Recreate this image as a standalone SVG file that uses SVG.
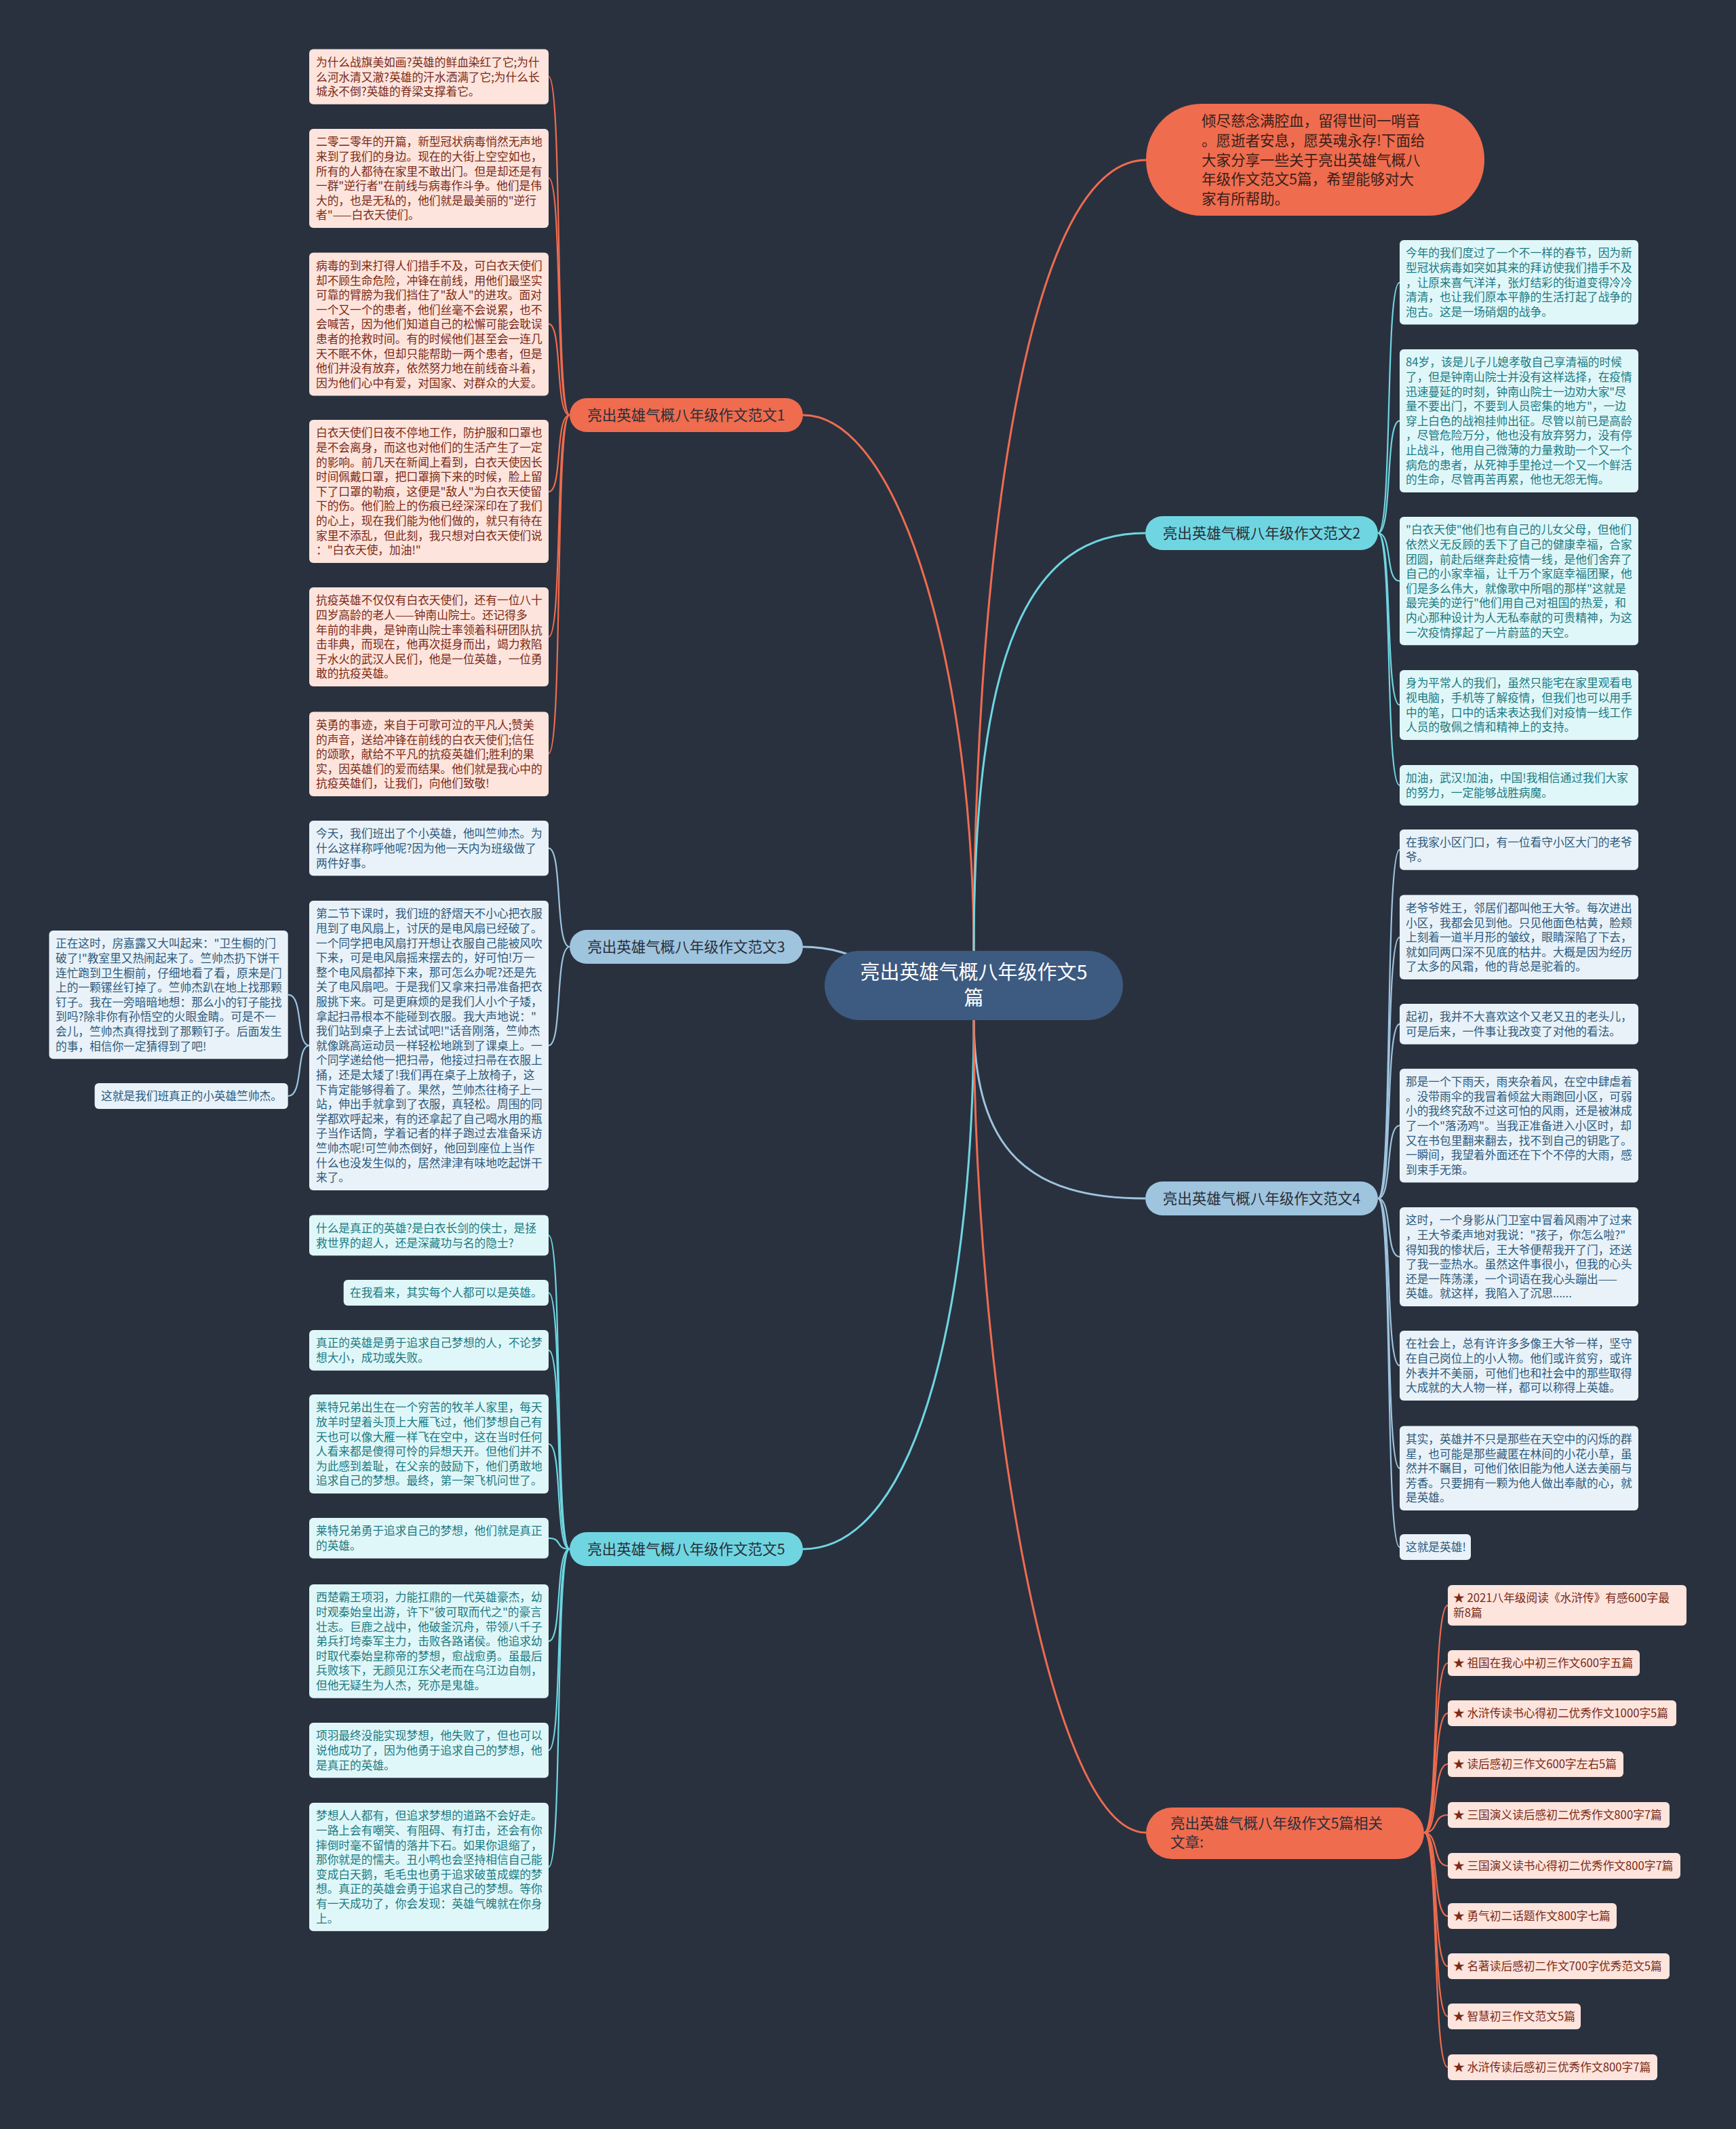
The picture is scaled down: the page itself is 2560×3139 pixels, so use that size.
<svg xmlns="http://www.w3.org/2000/svg" width="2560" height="3139" viewBox="0 0 2560 3139">
<style>
text{font-family:"Noto Sans CJK SC","Noto Sans",sans-serif;}
.t{font-size:16.7px;}
.ob{fill:#fde4dc;}
.ot{fill:#7a2a18;}
.cb{fill:#e0f7f9;}
.ct{fill:#1b7a82;}
.bb{fill:#e9f2f9;}
.bt{fill:#2d5a7c;}
.lo{fill:none;stroke:#ef6c4f;stroke-width:2.2;}
.lc{fill:none;stroke:#6fd6e1;stroke-width:2.2;}
.lb{fill:none;stroke:#9fc4de;stroke-width:2.2;}
.m{stroke-width:3;}
.bn{font-size:21.5px;fill:#2a2f3a;}
</style>
<rect width="2560" height="3139" fill="#29313f"/>
<g id="connectors">
<path class="lo m" d="M1436 1404 C1436 900 1500 236 1690 236"/>
<path class="lo m" d="M1436 1404 C1436 1000 1330 612 1184 612"/>
<path class="lc m" d="M1436 1404 C1436 950 1520 786 1689 786"/>
<path class="lb m" d="M1436 1454 C1300 1454 1280 1396 1184 1396"/>
<path class="lb m" d="M1436 1500 C1436 1700 1520 1767 1689 1767"/>
<path class="lc m" d="M1436 1500 C1436 1900 1360 2284 1184 2284"/>
<path class="lo m" d="M1436 1500 C1436 2000 1540 2702 1690 2702"/>
<path class="lo" d="M840 612 C818 612 830 113 809 113"/>
<path class="lo" d="M840 612 C818 612 830 262.5 809 262.5"/>
<path class="lo" d="M840 612 C818 612 830 477.7 809 477.7"/>
<path class="lo" d="M840 612 C818 612 830 725 809 725"/>
<path class="lo" d="M840 612 C818 612 830 939 809 939"/>
<path class="lo" d="M840 612 C818 612 830 1111 809 1111"/>
<path class="lc" d="M2032 786 C2054 786 2042 416.5 2064 416.5"/>
<path class="lc" d="M2032 786 C2054 786 2042 620.4 2064 620.4"/>
<path class="lc" d="M2032 786 C2054 786 2042 856.6 2064 856.6"/>
<path class="lc" d="M2032 786 C2054 786 2042 1039.4 2064 1039.4"/>
<path class="lc" d="M2032 786 C2054 786 2042 1157.8 2064 1157.8"/>
<path class="lb" d="M840 1396 C818 1396 830 1250.6 809 1250.6"/>
<path class="lb" d="M840 1396 C818 1396 830 1541.5 809 1541.5"/>
<path class="lb" d="M456 1541.5 C436 1541.5 448 1466.6 425 1466.6"/>
<path class="lb" d="M456 1541.5 C436 1541.5 448 1616 425 1616"/>
<path class="lb" d="M2032 1767 C2054 1767 2042 1252.8 2064 1252.8"/>
<path class="lb" d="M2032 1767 C2054 1767 2042 1381.8 2064 1381.8"/>
<path class="lb" d="M2032 1767 C2054 1767 2042 1509.8 2064 1509.8"/>
<path class="lb" d="M2032 1767 C2054 1767 2042 1659.5 2064 1659.5"/>
<path class="lb" d="M2032 1767 C2054 1767 2042 1853 2064 1853"/>
<path class="lb" d="M2032 1767 C2054 1767 2042 2013.4 2064 2013.4"/>
<path class="lb" d="M2032 1767 C2054 1767 2042 2164.7 2064 2164.7"/>
<path class="lb" d="M2032 1767 C2054 1767 2042 2281 2064 2281"/>
<path class="lc" d="M840 2284 C818 2284 830 1821.5 809 1821.5"/>
<path class="lc" d="M840 2284 C818 2284 830 1906 809 1906"/>
<path class="lc" d="M840 2284 C818 2284 830 1990.8 809 1990.8"/>
<path class="lc" d="M840 2284 C818 2284 830 2129 809 2129"/>
<path class="lc" d="M840 2284 C818 2284 830 2267.8 809 2267.8"/>
<path class="lc" d="M840 2284 C818 2284 830 2419.8 809 2419.8"/>
<path class="lc" d="M840 2284 C818 2284 830 2580.6 809 2580.6"/>
<path class="lc" d="M840 2284 C818 2284 830 2752.6 809 2752.6"/>
<path class="lo" d="M2100 2702 C2122 2702 2112 2366.8 2135 2366.8"/>
<path class="lo" d="M2100 2702 C2122 2702 2112 2452 2135 2452"/>
<path class="lo" d="M2100 2702 C2122 2702 2112 2526 2135 2526"/>
<path class="lo" d="M2100 2702 C2122 2702 2112 2601 2135 2601"/>
<path class="lo" d="M2100 2702 C2122 2702 2112 2676 2135 2676"/>
<path class="lo" d="M2100 2702 C2122 2702 2112 2751 2135 2751"/>
<path class="lo" d="M2100 2702 C2122 2702 2112 2825 2135 2825"/>
<path class="lo" d="M2100 2702 C2122 2702 2112 2899 2135 2899"/>
<path class="lo" d="M2100 2702 C2122 2702 2112 2973 2135 2973"/>
<path class="lo" d="M2100 2702 C2122 2702 2112 3048 2135 3048"/>
</g>

<g id="center">
<rect x="1216" y="1402" width="440" height="102" rx="51" fill="#3d5a80"/>
<text x="1436" y="1444" font-size="29" fill="#ffffff" text-anchor="middle">亮出英雄气概八年级作文5</text>
<text x="1436" y="1482" font-size="29" fill="#ffffff" text-anchor="middle">篇</text>
</g>

<g id="intro">
<rect x="1690" y="153" width="499" height="165" rx="82" fill="#ef6c4f"/>
<text font-size="21.5" fill="#3a2018"><tspan x="1772" y="186">倾尽慈念满腔血，留得世间一哨音</tspan><tspan x="1772" y="215">。愿逝者安息，愿英魂永存!下面给</tspan><tspan x="1772" y="244">大家分享一些关于亮出英雄气概八</tspan><tspan x="1772" y="272">年级作文范文5篇，希望能够对大</tspan><tspan x="1772" y="301">家有所帮助。</tspan></text>
</g>

<g id="branch1">
<rect x="840" y="587" width="344" height="50" rx="25" fill="#ef6c4f"/>
<text class="bn" x="1012" y="620" text-anchor="middle">亮出英雄气概八年级作文范文1</text>
</g>
<g id="branch2">
<rect x="1689" y="761" width="343" height="50" rx="25" fill="#6fd6e1"/>
<text class="bn" x="1860.5" y="794" text-anchor="middle">亮出英雄气概八年级作文范文2</text>
</g>
<g id="branch3">
<rect x="840" y="1371" width="344" height="50" rx="25" fill="#9fc4de"/>
<text class="bn" x="1012" y="1404" text-anchor="middle">亮出英雄气概八年级作文范文3</text>
</g>
<g id="branch4">
<rect x="1689" y="1742" width="343" height="50" rx="25" fill="#9fc4de"/>
<text class="bn" x="1860.5" y="1775" text-anchor="middle">亮出英雄气概八年级作文范文4</text>
</g>
<g id="branch5">
<rect x="840" y="2259" width="344" height="50" rx="25" fill="#6fd6e1"/>
<text class="bn" x="1012" y="2292" text-anchor="middle">亮出英雄气概八年级作文范文5</text>
</g>
<g id="related">
<rect x="1690" y="2665" width="410" height="76" rx="38" fill="#ef6c4f"/>
<text class="bn"><tspan x="1726" y="2696">亮出英雄气概八年级作文5篇相关</tspan><tspan x="1726" y="2724">文章:</tspan></text>
</g>

<g id="a1"><rect class="ob" x="456" y="72.5" width="353" height="81.3" rx="6"/>
<text class="t ot"><tspan x="466" y="97.9">为什么战旗美如画?英雄的鲜血染红了它;为什</tspan><tspan x="466" y="119.5">么河水清又澈?英雄的汗水洒满了它;为什么长</tspan><tspan x="466" y="141.1">城永不倒?英雄的脊梁支撑着它。</tspan></text></g>
<g id="a2"><rect class="ob" x="456" y="190" width="353" height="146.1" rx="6"/>
<text class="t ot"><tspan x="466" y="215.4">二零二零年的开篇，新型冠状病毒悄然无声地</tspan><tspan x="466" y="237">来到了我们的身边。现在的大街上空空如也，</tspan><tspan x="466" y="258.6">所有的人都待在家里不敢出门。但是却还是有</tspan><tspan x="466" y="280.2">一群"逆行者"在前线与病毒作斗争。他们是伟</tspan><tspan x="466" y="301.8">大的，也是无私的，他们就是最美丽的"逆行</tspan><tspan x="466" y="323.4">者"——白衣天使们。</tspan></text></g>
<g id="a3"><rect class="ob" x="456" y="372.5" width="353" height="210.9" rx="6"/>
<text class="t ot"><tspan x="466" y="397.9">病毒的到来打得人们措手不及，可白衣天使们</tspan><tspan x="466" y="419.5">却不顾生命危险，冲锋在前线，用他们最坚实</tspan><tspan x="466" y="441.1">可靠的臂膀为我们挡住了"敌人"的进攻。面对</tspan><tspan x="466" y="462.7">一个又一个的患者，他们丝毫不会说累，也不</tspan><tspan x="466" y="484.3">会喊苦，因为他们知道自己的松懈可能会耽误</tspan><tspan x="466" y="505.9">患者的抢救时间。有的时候他们甚至会一连几</tspan><tspan x="466" y="527.5">天不眠不休，但却只能帮助一两个患者，但是</tspan><tspan x="466" y="549.1">他们并没有放弃，依然努力地在前线奋斗着，</tspan><tspan x="466" y="570.7">因为他们心中有爱，对国家、对群众的大爱。</tspan></text></g>
<g id="a4"><rect class="ob" x="456" y="619" width="353" height="210.9" rx="6"/>
<text class="t ot"><tspan x="466" y="644.4">白衣天使们日夜不停地工作，防护服和口罩也</tspan><tspan x="466" y="666">是不会离身，而这也对他们的生活产生了一定</tspan><tspan x="466" y="687.6">的影响。前几天在新闻上看到，白衣天使因长</tspan><tspan x="466" y="709.2">时间佩戴口罩，把口罩摘下来的时候，脸上留</tspan><tspan x="466" y="730.8">下了口罩的勒痕，这便是"敌人"为白衣天使留</tspan><tspan x="466" y="752.4">下的伤。他们脸上的伤痕已经深深印在了我们</tspan><tspan x="466" y="774">的心上，现在我们能为他们做的，就只有待在</tspan><tspan x="466" y="795.6">家里不添乱，但此刻，我只想对白衣天使们说</tspan><tspan x="466" y="817.2">："白衣天使，加油!"</tspan></text></g>
<g id="a5"><rect class="ob" x="456" y="866" width="353" height="146.1" rx="6"/>
<text class="t ot"><tspan x="466" y="891.4">抗疫英雄不仅仅有白衣天使们，还有一位八十</tspan><tspan x="466" y="913">四岁高龄的老人——钟南山院士。还记得多</tspan><tspan x="466" y="934.6">年前的非典，是钟南山院士率领着科研团队抗</tspan><tspan x="466" y="956.2">击非典，而现在，他再次挺身而出，竭力救陷</tspan><tspan x="466" y="977.8">于水火的武汉人民们，他是一位英雄，一位勇</tspan><tspan x="466" y="999.4">敢的抗疫英雄。</tspan></text></g>
<g id="a6"><rect class="ob" x="456" y="1049.5" width="353" height="124.5" rx="6"/>
<text class="t ot"><tspan x="466" y="1074.9">英勇的事迹，来自于可歌可泣的平凡人;赞美</tspan><tspan x="466" y="1096.5">的声音，送给冲锋在前线的白衣天使们;信任</tspan><tspan x="466" y="1118.1">的颂歌，献给不平凡的抗疫英雄们;胜利的果</tspan><tspan x="466" y="1139.7">实，因英雄们的爱而结果。他们就是我心中的</tspan><tspan x="466" y="1161.3">抗疫英雄们，让我们，向他们致敬!</tspan></text></g>

<g id="c1"><rect class="bb" x="456" y="1210" width="353" height="81.3" rx="6"/>
<text class="t bt"><tspan x="466" y="1235.4">今天，我们班出了个小英雄，他叫竺帅杰。为</tspan><tspan x="466" y="1257">什么这样称呼他呢?因为他一天内为班级做了</tspan><tspan x="466" y="1278.6">两件好事。</tspan></text></g>
<g id="c2"><rect class="bb" x="456" y="1328" width="353" height="426.9" rx="6"/>
<text class="t bt"><tspan x="466" y="1353.4">第二节下课时，我们班的舒熠天不小心把衣服</tspan><tspan x="466" y="1375">甩到了电风扇上，讨厌的是电风扇已经破了。</tspan><tspan x="466" y="1396.6">一个同学把电风扇打开想让衣服自己能被风吹</tspan><tspan x="466" y="1418.2">下来，可是电风扇摇来摆去的，好可怕!万一</tspan><tspan x="466" y="1439.8">整个电风扇都掉下来，那可怎么办呢?还是先</tspan><tspan x="466" y="1461.4">关了电风扇吧。于是我们又拿来扫帚准备把衣</tspan><tspan x="466" y="1483">服挑下来。可是更麻烦的是我们人小个子矮，</tspan><tspan x="466" y="1504.6">拿起扫帚根本不能碰到衣服。我大声地说："</tspan><tspan x="466" y="1526.2">我们站到桌子上去试试吧!"话音刚落，竺帅杰</tspan><tspan x="466" y="1547.8">就像跳高运动员一样轻松地跳到了课桌上。一</tspan><tspan x="466" y="1569.4">个同学递给他一把扫帚，他接过扫帚在衣服上</tspan><tspan x="466" y="1591">捅，还是太矮了!我们再在桌子上放椅子，这</tspan><tspan x="466" y="1612.6">下肯定能够得着了。果然，竺帅杰往椅子上一</tspan><tspan x="466" y="1634.2">站，伸出手就拿到了衣服，真轻松。周围的同</tspan><tspan x="466" y="1655.8">学都欢呼起来，有的还拿起了自己喝水用的瓶</tspan><tspan x="466" y="1677.4">子当作话筒，学着记者的样子跑过去准备采访</tspan><tspan x="466" y="1699">竺帅杰呢!可竺帅杰倒好，他回到座位上当作</tspan><tspan x="466" y="1720.6">什么也没发生似的，居然津津有味地吃起饼干</tspan><tspan x="466" y="1742.2">来了。</tspan></text></g>
<g id="c3"><rect class="bb" x="72.4" y="1372" width="352.3" height="189.3" rx="6"/>
<text class="t bt"><tspan x="82" y="1397.4">正在这时，房嘉露又大叫起来："卫生橱的门</tspan><tspan x="82" y="1419">破了!"教室里又热闹起来了。竺帅杰扔下饼干</tspan><tspan x="82" y="1440.6">连忙跑到卫生橱前，仔细地看了看，原来是门</tspan><tspan x="82" y="1462.2">上的一颗镙丝钉掉了。竺帅杰趴在地上找那颗</tspan><tspan x="82" y="1483.8">钉子。我在一旁暗暗地想：那么小的钉子能找</tspan><tspan x="82" y="1505.4">到吗?除非你有孙悟空的火眼金睛。可是不一</tspan><tspan x="82" y="1527">会儿，竺帅杰真得找到了那颗钉子。后面发生</tspan><tspan x="82" y="1548.6">的事，相信你一定猜得到了吧!</tspan></text></g>
<g id="c4"><rect class="bb" x="139.6" y="1597" width="285.1" height="38.1" rx="6"/>
<text class="t bt" x="149" y="1622.4">这就是我们班真正的小英雄竺帅杰。</text></g>

<g id="e1"><rect class="cb" x="456" y="1791.6" width="353" height="59.7" rx="6"/>
<text class="t ct"><tspan x="466" y="1817">什么是真正的英雄?是白衣长剑的侠士，是拯</tspan><tspan x="466" y="1838.6">救世界的超人，还是深藏功与名的隐士?</tspan></text></g>
<g id="e2"><rect class="cb" x="506.7" y="1887" width="302.3" height="38.1" rx="6"/>
<text class="t ct" x="516" y="1912.4">在我看来，其实每个人都可以是英雄。</text></g>
<g id="e3"><rect class="cb" x="456" y="1961" width="353" height="59.7" rx="6"/>
<text class="t ct"><tspan x="466" y="1986.4">真正的英雄是勇于追求自己梦想的人，不论梦</tspan><tspan x="466" y="2008">想大小，成功或失败。</tspan></text></g>
<g id="e4"><rect class="cb" x="456" y="2056" width="353" height="146.1" rx="6"/>
<text class="t ct"><tspan x="466" y="2081.4">莱特兄弟出生在一个穷苦的牧羊人家里，每天</tspan><tspan x="466" y="2103">放羊时望着头顶上大雁飞过，他们梦想自己有</tspan><tspan x="466" y="2124.6">天也可以像大雁一样飞在空中，这在当时任何</tspan><tspan x="466" y="2146.2">人看来都是傻得可怜的异想天开。但他们并不</tspan><tspan x="466" y="2167.8">为此感到羞耻，在父亲的鼓励下，他们勇敢地</tspan><tspan x="466" y="2189.4">追求自己的梦想。最终，第一架飞机问世了。</tspan></text></g>
<g id="e5"><rect class="cb" x="456" y="2238" width="353" height="59.7" rx="6"/>
<text class="t ct"><tspan x="466" y="2263.4">莱特兄弟勇于追求自己的梦想，他们就是真正</tspan><tspan x="466" y="2285">的英雄。</tspan></text></g>
<g id="e6"><rect class="cb" x="456" y="2336" width="353" height="167.7" rx="6"/>
<text class="t ct"><tspan x="466" y="2361.4">西楚霸王项羽，力能扛鼎的一代英雄豪杰，幼</tspan><tspan x="466" y="2383">时观秦始皇出游，许下"彼可取而代之"的豪言</tspan><tspan x="466" y="2404.6">壮志。巨鹿之战中，他破釜沉舟，带领八千子</tspan><tspan x="466" y="2426.2">弟兵打垮秦军主力，击败各路诸侯。他追求幼</tspan><tspan x="466" y="2447.8">时取代秦始皇称帝的梦想，愈战愈勇。虽最后</tspan><tspan x="466" y="2469.4">兵败垓下，无颜见江东父老而在乌江边自刎，</tspan><tspan x="466" y="2491">但他无疑生为人杰，死亦是鬼雄。</tspan></text></g>
<g id="e7"><rect class="cb" x="456" y="2540" width="353" height="81.3" rx="6"/>
<text class="t ct"><tspan x="466" y="2565.4">项羽最终没能实现梦想，他失败了，但也可以</tspan><tspan x="466" y="2587">说他成功了，因为他勇于追求自己的梦想，他</tspan><tspan x="466" y="2608.6">是真正的英雄。</tspan></text></g>
<g id="e8"><rect class="cb" x="456" y="2658" width="353" height="189.3" rx="6"/>
<text class="t ct"><tspan x="466" y="2683.4">梦想人人都有，但追求梦想的道路不会好走。</tspan><tspan x="466" y="2705">一路上会有嘲笑、有阻碍、有打击，还会有你</tspan><tspan x="466" y="2726.6">摔倒时毫不留情的落井下石。如果你退缩了，</tspan><tspan x="466" y="2748.2">那你就是的懦夫。丑小鸭也会坚持相信自己能</tspan><tspan x="466" y="2769.8">变成白天鹅，毛毛虫也勇于追求破茧成蝶的梦</tspan><tspan x="466" y="2791.4">想。真正的英雄会勇于追求自己的梦想。等你</tspan><tspan x="466" y="2813">有一天成功了，你会发现：英雄气魄就在你身</tspan><tspan x="466" y="2834.6">上。</tspan></text></g>

<g id="b1"><rect class="cb" x="2064" y="354" width="352" height="124.5" rx="6"/>
<text class="t ct"><tspan x="2073" y="379.4">今年的我们度过了一个不一样的春节，因为新</tspan><tspan x="2073" y="401">型冠状病毒如突如其来的拜访使我们措手不及</tspan><tspan x="2073" y="422.6">，让原来喜气洋洋，张灯结彩的街道变得冷冷</tspan><tspan x="2073" y="444.2">清清，也让我们原本平静的生活打起了战争的</tspan><tspan x="2073" y="465.8">泡古。这是一场硝烟的战争。</tspan></text></g>
<g id="b2"><rect class="cb" x="2064" y="515" width="352" height="210.9" rx="6"/>
<text class="t ct"><tspan x="2073" y="540.4">84岁，该是儿子儿媳孝敬自己享清福的时候</tspan><tspan x="2073" y="562">了，但是钟南山院士并没有这样选择，在疫情</tspan><tspan x="2073" y="583.6">迅速蔓延的时刻，钟南山院士一边劝大家"尽</tspan><tspan x="2073" y="605.2">量不要出门，不要到人员密集的地方"，一边</tspan><tspan x="2073" y="626.8">穿上白色的战袍挂帅出征。尽管以前已是高龄</tspan><tspan x="2073" y="648.4">，尽管危险万分，他也没有放弃努力，没有停</tspan><tspan x="2073" y="670">止战斗，他用自己微薄的力量救助一个又一个</tspan><tspan x="2073" y="691.6">病危的患者，从死神手里抢过一个又一个鲜活</tspan><tspan x="2073" y="713.2">的生命，尽管再苦再累，他也无怨无悔。</tspan></text></g>
<g id="b3"><rect class="cb" x="2064" y="762" width="352" height="189.3" rx="6"/>
<text class="t ct"><tspan x="2073" y="787.4">"白衣天使"他们也有自己的儿女父母，但他们</tspan><tspan x="2073" y="809">依然义无反顾的丢下了自己的健康幸福，合家</tspan><tspan x="2073" y="830.6">团圆，前赴后继奔赴疫情一线，是他们舍弃了</tspan><tspan x="2073" y="852.2">自己的小家幸福，让千万个家庭幸福团聚，他</tspan><tspan x="2073" y="873.8">们是多么伟大，就像歌中所唱的那样"这就是</tspan><tspan x="2073" y="895.4">最完美的逆行"他们用自己对祖国的热爱，和</tspan><tspan x="2073" y="917">内心那种设计为人无私奉献的可贵精神，为这</tspan><tspan x="2073" y="938.6">一次疫情撑起了一片蔚蓝的天空。</tspan></text></g>
<g id="b4"><rect class="cb" x="2064" y="988" width="352" height="102.9" rx="6"/>
<text class="t ct"><tspan x="2073" y="1013.4">身为平常人的我们，虽然只能宅在家里观看电</tspan><tspan x="2073" y="1035">视电脑，手机等了解疫情，但我们也可以用手</tspan><tspan x="2073" y="1056.6">中的笔，口中的话来表达我们对疫情一线工作</tspan><tspan x="2073" y="1078.2">人员的敬佩之情和精神上的支持。</tspan></text></g>
<g id="b5"><rect class="cb" x="2064" y="1128" width="352" height="59.7" rx="6"/>
<text class="t ct"><tspan x="2073" y="1153.4">加油，武汉!加油，中国!我相信通过我们大家</tspan><tspan x="2073" y="1175">的努力，一定能够战胜病魔。</tspan></text></g>

<g id="d1"><rect class="bb" x="2064" y="1223" width="352" height="59.7" rx="6"/>
<text class="t bt"><tspan x="2073" y="1248.4">在我家小区门口，有一位看守小区大门的老爷</tspan><tspan x="2073" y="1270">爷。</tspan></text></g>
<g id="d2"><rect class="bb" x="2064" y="1319.6" width="352" height="124.5" rx="6"/>
<text class="t bt"><tspan x="2073" y="1345">老爷爷姓王，邻居们都叫他王大爷。每次进出</tspan><tspan x="2073" y="1366.6">小区，我都会见到他。只见他面色枯黄，脸颊</tspan><tspan x="2073" y="1388.2">上刻着一道半月形的皱纹，眼睛深陷了下去，</tspan><tspan x="2073" y="1409.8">就如同两口深不见底的枯井。大概是因为经历</tspan><tspan x="2073" y="1431.4">了太多的风霜，他的背总是驼着的。</tspan></text></g>
<g id="d3"><rect class="bb" x="2064" y="1480" width="352" height="59.7" rx="6"/>
<text class="t bt"><tspan x="2073" y="1505.4">起初，我并不大喜欢这个又老又丑的老头儿，</tspan><tspan x="2073" y="1527">可是后来，一件事让我改变了对他的看法。</tspan></text></g>
<g id="d4"><rect class="bb" x="2064" y="1575.7" width="352" height="167.7" rx="6"/>
<text class="t bt"><tspan x="2073" y="1601.1">那是一个下雨天，雨夹杂着风，在空中肆虐着</tspan><tspan x="2073" y="1622.7">。没带雨伞的我冒着倾盆大雨跑回小区，可弱</tspan><tspan x="2073" y="1644.3">小的我终究敌不过这可怕的风雨，还是被淋成</tspan><tspan x="2073" y="1665.9">了一个"落汤鸡"。当我正准备进入小区时，却</tspan><tspan x="2073" y="1687.5">又在书包里翻来翻去，找不到自己的钥匙了。</tspan><tspan x="2073" y="1709.1">一瞬间，我望着外面还在下个不停的大雨，感</tspan><tspan x="2073" y="1730.7">到束手无策。</tspan></text></g>
<g id="d5"><rect class="bb" x="2064" y="1780" width="352" height="146.1" rx="6"/>
<text class="t bt"><tspan x="2073" y="1805.4">这时，一个身影从门卫室中冒着风雨冲了过来</tspan><tspan x="2073" y="1827">，王大爷柔声地对我说："孩子，你怎么啦?"</tspan><tspan x="2073" y="1848.6">得知我的惨状后，王大爷便帮我开了门，还送</tspan><tspan x="2073" y="1870.2">了我一壶热水。虽然这件事很小，但我的心头</tspan><tspan x="2073" y="1891.8">还是一阵荡漾，一个词语在我心头蹦出——</tspan><tspan x="2073" y="1913.4">英雄。就这样，我陷入了沉思......</tspan></text></g>
<g id="d6"><rect class="bb" x="2064" y="1962" width="352" height="102.9" rx="6"/>
<text class="t bt"><tspan x="2073" y="1987.4">在社会上，总有许许多多像王大爷一样，坚守</tspan><tspan x="2073" y="2009">在自己岗位上的小人物。他们或许贫穷，或许</tspan><tspan x="2073" y="2030.6">外表并不美丽，可他们也和社会中的那些取得</tspan><tspan x="2073" y="2052.2">大成就的大人物一样，都可以称得上英雄。</tspan></text></g>
<g id="d7"><rect class="bb" x="2064" y="2102.5" width="352" height="124.5" rx="6"/>
<text class="t bt"><tspan x="2073" y="2127.9">其实，英雄并不只是那些在天空中的闪烁的群</tspan><tspan x="2073" y="2149.5">星，也可能是那些藏匿在林间的小花小草，虽</tspan><tspan x="2073" y="2171.1">然并不瞩目，可他们依旧能为他人送去美丽与</tspan><tspan x="2073" y="2192.7">芳香。只要拥有一颗为他人做出奉献的心，就</tspan><tspan x="2073" y="2214.3">是英雄。</tspan></text></g>
<g id="d8"><rect class="bb" x="2064" y="2262" width="105" height="38.1" rx="6"/>
<text class="t bt" x="2073" y="2287.4">这就是英雄!</text></g>

<g id="r1"><rect class="ob" x="2135" y="2337" width="352" height="59.7" rx="6"/>
<text class="t ot"><tspan x="2143" y="2362.4">★ 2021八年级阅读《水浒传》有感600字最</tspan><tspan x="2143" y="2384">新8篇</tspan></text></g>
<g id="r2"><rect class="ob" x="2135" y="2433" width="283" height="38.1" rx="6"/>
<text class="t ot" x="2143" y="2458.4">★ 祖国在我心中初三作文600字五篇</text></g>
<g id="r3"><rect class="ob" x="2135" y="2507" width="337" height="38.1" rx="6"/>
<text class="t ot" x="2143" y="2532.4">★ 水浒传读书心得初二优秀作文1000字5篇</text></g>
<g id="r4"><rect class="ob" x="2135" y="2582" width="259" height="38.1" rx="6"/>
<text class="t ot" x="2143" y="2607.4">★ 读后感初三作文600字左右5篇</text></g>
<g id="r5"><rect class="ob" x="2135" y="2657" width="327" height="38.1" rx="6"/>
<text class="t ot" x="2143" y="2682.4">★ 三国演义读后感初二优秀作文800字7篇</text></g>
<g id="r6"><rect class="ob" x="2135" y="2732" width="343" height="38.1" rx="6"/>
<text class="t ot" x="2143" y="2757.4">★ 三国演义读书心得初二优秀作文800字7篇</text></g>
<g id="r7"><rect class="ob" x="2135" y="2806" width="249" height="38.1" rx="6"/>
<text class="t ot" x="2143" y="2831.4">★ 勇气初二话题作文800字七篇</text></g>
<g id="r8"><rect class="ob" x="2135" y="2880" width="327" height="38.1" rx="6"/>
<text class="t ot" x="2143" y="2905.4">★ 名著读后感初二作文700字优秀范文5篇</text></g>
<g id="r9"><rect class="ob" x="2135" y="2954" width="196" height="38.1" rx="6"/>
<text class="t ot" x="2143" y="2979.4">★ 智慧初三作文范文5篇</text></g>
<g id="r10"><rect class="ob" x="2135" y="3029" width="309" height="38.1" rx="6"/>
<text class="t ot" x="2143" y="3054.4">★ 水浒传读后感初三优秀作文800字7篇</text></g>
</svg>
